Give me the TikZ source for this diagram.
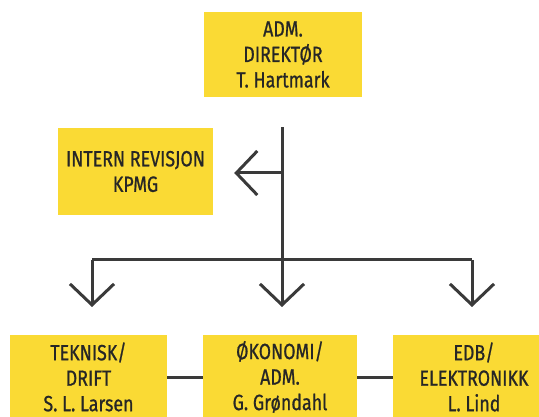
\documentclass[tikz,border=0pt]{standalone}
\usepackage{fontspec}
\setmainfont{Fira Sans}[FakeStretch=0.81, FakeBold=0.8]
\usepackage{xcolor}
\usetikzlibrary{arrows.meta,positioning,calc}

\definecolor{boxyellow}{RGB}{250,218,52}
\definecolor{linegray}{RGB}{58,58,58}
\definecolor{textgray}{RGB}{38,38,38}

\tikzset{
  orgbox/.style={fill=boxyellow, draw=none, align=center, text=textgray,
    inner sep=0pt, font=\fontsize{22}{25.5}\selectfont},
  orgline/.style={draw=linegray, line width=3pt},
  orgarrow/.style={orgline, -{Straight Barb[length=21pt,width=44pt,line width=3pt]}}
}

\begin{document}
\begin{tikzpicture}[x=1pt,y=-1pt]
        \useasboundingbox (0,0) rectangle (539,417);

        % Director at the top
        \node[orgbox, minimum width=158pt, minimum height=85pt] (dir) at (283,54.5)
            {ADM.\\DIREKTØR\\T. Hartmark};

        % Internal audit to the side
        \node[orgbox, minimum width=155pt, minimum height=87pt] (rev) at (135.5,171.5)
            {INTERN REVISJON\\KPMG};

        % Departments
        \node[orgbox, minimum width=157pt, minimum height=84pt] (tek) at (88.5,377)
            {TEKNISK/\\DRIFT\\S. L. Larsen};
        \node[orgbox, minimum width=154pt, minimum height=84pt] (oko) at (280,377)
            {ØKONOMI/\\ADM.\\G. Grøndahl};
        \node[orgbox, minimum width=162pt, minimum height=84pt] (edb) at (474,377)
            {EDB/\\ELEKTRONIKK\\L. Lind};

        % Junction points
        \coordinate (trunk) at ($(dir.south)+(-1,30)$);
        \coordinate (side) at (282,173);
        \coordinate (revtip) at ($(rev.east)+(21,1.5)$);
        \coordinate (barL) at (92,260);
        \coordinate (barR) at (472,260);
        \coordinate (tiptek) at (92,307);
        \coordinate (tipoko) at (282,307);
        \coordinate (tipedb) at (472,307);

        % Trunk and branches
        \draw[orgarrow] (trunk) -- (tipoko);
        \draw[orgarrow] (side) -- (revtip);
        \draw[orgline, line join=miter] (tiptek |- barL) -- (barL) -- (barR);
        \draw[orgarrow] (barL) -- (tiptek);
        \draw[orgarrow] (barR) -- (tipedb);

        % Links between departments
        \draw[orgline] (tek.east) -- (oko.west);
        \draw[orgline] (oko.east) -- (edb.west);

    \end{tikzpicture}
\end{document}
